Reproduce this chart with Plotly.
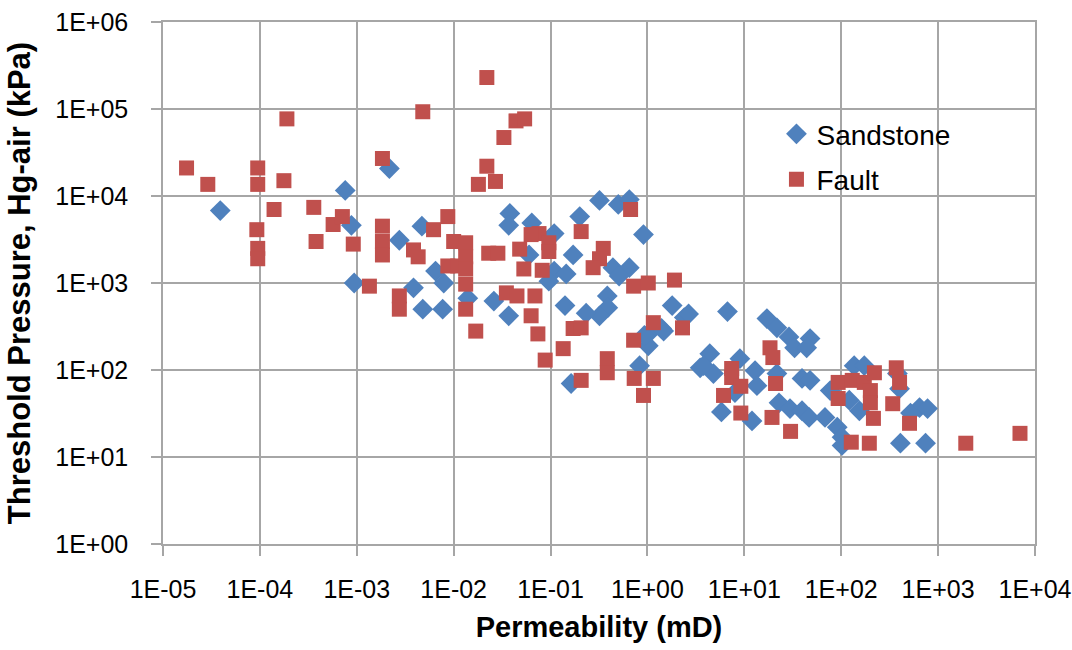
import plotly.graph_objects as go

# ---- data ----
sandstone_perm = [3.9e-5, 7.6e-4, 2.17e-3, 8.8e-4, 2.75e-3, 4.7e-3, 9.4e-4, 3.85e-3, 6.5e-3, 7.9e-3,
                  4.8e-3, 7.7e-3, 0.014, 0.026, 0.32, 0.5, 0.65, 0.038, 0.037, 0.2,
                  0.064, 0.109, 0.91, 0.171, 0.06, 0.109, 0.145, 0.096, 0.44, 0.65,
                  0.51, 0.037, 0.141, 0.385, 0.39, 0.32, 0.233, 1.8, 2.4, 1.02,
                  1.4, 0.163, 0.83, 1.02, 0.93, 2.66, 1.47, 6.7, 17.1, 21.7,
                  28.9, 47.7, 33, 44, 4.4, 3.5, 4.8, 9.0, 12.9, 13.5,
                  21.7, 39.4, 47.7, 5.8, 12, 22.8, 29.6, 39.4, 46.6, 68,
                  91, 102, 102, 136, 173, 121, 154, 77, 408, 742,
                  643, 519, 778, 380, 400, 3.8, 8.0]
sandstone_pres = [6.8e3, 1.16e4, 2.07e4, 4.6e3, 3.1e3, 4.5e3, 1.0e3, 8.8e2, 1.37e3, 1.0e3,
                  5.0e2, 5.0e2, 6.7e2, 6.2e2, 8.9e3, 8.0e3, 9.1e3, 6.3e3, 4.6e3, 5.8e3,
                  4.9e3, 3.7e3, 3.6e3, 2.1e3, 2.1e3, 1.37e3, 1.27e3, 1.05e3, 1.5e3, 1.5e3,
                  1.2e3, 4.2e2, 5.5e2, 7.1e2, 5.2e2, 4.2e2, 4.5e2, 5.5e2, 4.0e2, 2.6e2,
                  3.0e2, 70, 112, 190, 250, 440, 280, 470, 390, 305,
                  240, 230, 180, 180, 154, 106, 91, 135, 98, 66,
                  91, 80, 76, 33, 26, 42, 36, 34, 28.5, 28.5,
                  22, 16.9, 13.6, 112, 112, 45, 34, 58, 14.4, 14.4,
                  37, 32, 36, 91, 61, 112, 55]

fault_perm = [1.75e-5, 2.9e-5, 9.5e-5, 9.5e-5, 1.9e-4, 1.77e-4, 4.8e-3, 1.84e-3, 1.4e-4, 3.6e-4,
              9.3e-5, 9.5e-5, 9.5e-5, 3.8e-4, 5.7e-4, 7.1e-4, 9.2e-4, 1.84e-3, 1.84e-3, 1.84e-3,
              1.35e-3, 2.75e-3, 2.75e-3, 3.85e-3, 4.3e-3, 6.2e-3, 8.7e-3, 1.0e-2, 8.7e-3, 1.1e-2,
              2.2e-2, 4.4e-2, 5.4e-2, 3.3e-2, 2.2e-2, 1.8e-2, 2.7e-2, 0.67, 0.207, 0.35,
              0.32, 0.275, 0.076, 0.063, 0.096, 0.096, 0.048, 0.023, 0.0286, 0.053,
              0.082, 0.0133, 0.0133, 0.0133, 0.0133, 0.72, 1.02, 1.9, 0.035, 0.045,
              0.069, 0.0133, 0.063, 0.0169, 0.074, 0.171, 0.207, 1.15, 2.3, 0.72,
              0.088, 0.135, 0.385, 0.385, 0.207, 0.73, 1.15, 0.91, 18.4, 19.7,
              7.4, 7.4, 9.2, 6.1, 9.2, 21, 19.3, 30, 93, 93,
              130, 173, 220, 200, 200, 215, 340, 370, 400, 507,
              127, 195, 1930, 7000]
fault_pres = [2.1e4, 1.36e4, 2.1e4, 1.36e4, 7.7e4, 1.5e4, 9.3e4, 2.7e4, 7.0e3, 7.4e3,
              4.1e3, 2.5e3, 1.9e3, 3.0e3, 4.7e3, 5.8e3, 2.8e3, 4.5e3, 3.0e3, 2.1e3,
              9.2e2, 7.1e2, 5.0e2, 2.4e3, 2.0e3, 4.1e3, 5.8e3, 3.0e3, 1.57e3, 1.57e3,
              2.3e5, 7.3e4, 7.7e4, 4.7e4, 2.2e4, 1.36e4, 1.47e4, 7.0e3, 3.9e3, 2.5e3,
              1.9e3, 1.5e3, 3.7e3, 3.6e3, 2.9e3, 2.3e3, 2.45e3, 2.2e3, 2.2e3, 1.45e3,
              1.4e3, 2.9e3, 2.0e3, 1.45e3, 9.7e2, 9.2e2, 1.0e3, 1.08e3, 7.7e2, 7.1e2,
              7.1e2, 5.0e2, 4.2e2, 2.8e2, 2.6e2, 3.0e2, 3.05e2, 3.5e2, 3.05e2, 2.2e2,
              1.3e2, 1.76e2, 1.35e2, 93, 76, 80, 80, 51, 180, 139,
              104, 82, 65, 51, 32, 70, 28.5, 19.7, 72, 47,
              76, 72, 93, 58, 42, 27.8, 41, 106, 72, 24.4,
              14.8, 14.4, 14.4, 18.7]

x_tick_vals = [1e-5, 1e-4, 1e-3, 1e-2, 1e-1, 1e0, 1e1, 1e2, 1e3, 1e4]
x_tick_labels = ["1E-05", "1E-04", "1E-03", "1E-02", "1E-01", "1E+00", "1E+01", "1E+02", "1E+03", "1E+04"]
y_tick_vals = [1e0, 1e1, 1e2, 1e3, 1e4, 1e5, 1e6]
y_tick_labels = ["1E+00", "1E+01", "1E+02", "1E+03", "1E+04", "1E+05", "1E+06"]

BLUE = "#4F81BD"
RED = "#C0504D"
GRID = "#A6A6A6"
FONT = "Liberation Sans, Arial, sans-serif"

fig = go.Figure()
fig.add_trace(go.Scatter(
    x=sandstone_perm, y=sandstone_pres, mode="markers", name="Sandstone", legendgroup="s",
    marker=dict(symbol="diamond", size=16, color=BLUE, line=dict(width=0)),
))
fig.add_trace(go.Scatter(
    x=fault_perm, y=fault_pres, mode="markers", name="Fault", legendgroup="f",
    marker=dict(symbol="square", size=15, color=RED, line=dict(width=0)),
))

axis_common = dict(
    type="log", showgrid=True, gridcolor=GRID, gridwidth=1.5,
    showline=True, mirror=True, linecolor=GRID, linewidth=1.5,
    ticks="outside", ticklen=10, tickcolor=GRID, tickwidth=1.5,
    tickfont=dict(family=FONT, size=25, color="#000000"),
    ticklabeloverflow="allow",
    zeroline=False, automargin=False,
)

fig.update_xaxes(
    **axis_common, range=[-5, 4],
    tickvals=x_tick_vals, ticktext=x_tick_labels, ticklabelstandoff=12,
    title=dict(text="<b>Permeability (mD)</b>", font=dict(family=FONT, size=29, color="#000000")),
)
fig.update_yaxes(
    **axis_common, range=[0, 6],
    tickvals=y_tick_vals, ticktext=y_tick_labels, ticklabelstandoff=18,
    title=dict(text="<b>Threshold Pressure, Hg-air (kPa)</b>", font=dict(family=FONT, size=31, color="#000000")),
)

fig.update_layout(
    width=1072, height=650,
    margin=dict(l=163, r=37, t=22, b=106),
    paper_bgcolor="white", plot_bgcolor="white",
    showlegend=True,
    legend=dict(
        x=0.7035, y=0.833, xanchor="left", yanchor="top",
        bgcolor="rgba(0,0,0,0)", font=dict(family=FONT, size=28, color="#000000"),
        tracegroupgap=6,
    ),
)

# remove the default 8 px page margin so the figure fills the window exactly
fig.write_html(
    "out.html",
    config={"displayModeBar": False},
    post_script="document.body.style.margin='0';document.body.style.overflow='hidden';",
)
